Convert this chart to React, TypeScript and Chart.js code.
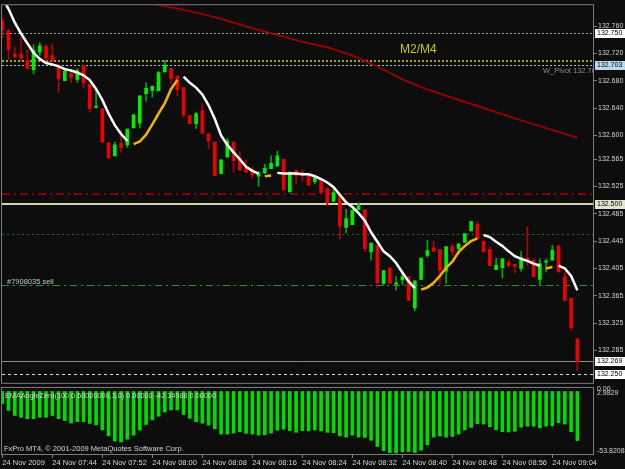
import React, { useEffect, useRef } from 'react';
import { Chart, registerables } from 'chart.js';

Chart.register(...registerables);

const FONT = '"Liberation Sans", Arial, sans-serif';

// ---------- DATA ----------
const opens = [
  132.768, 132.753, 132.719, 132.719, 132.709, 132.696, 132.722, 132.730, 132.717, 132.703,
  132.680, 132.691, 132.682, 132.702, 132.675, 132.641, 132.639, 132.589, 132.570, 132.588,
  132.586, 132.611, 132.618, 132.661, 132.666, 132.665, 132.693, 132.698, 132.687, 132.670,
  132.629, 132.617, 132.636, 132.602, 132.590, 132.544, 132.568, 132.590, 132.567, 132.552,
  132.550, 132.540, 132.545, 132.551, 132.555, 132.565, 132.517, 132.548, 132.546, 132.542,
  132.532, 132.535, 132.522, 132.503, 132.513, 132.465, 132.469, 132.491, 132.491, 132.429,
  132.439, 132.383, 132.406, 132.382, 132.388, 132.393, 132.347, 132.389, 132.424, 132.435,
  132.433, 132.401, 132.437, 132.434, 132.443, 132.460, 132.470, 132.445, 132.433, 132.403,
  132.406, 132.414, 132.411, 132.405, 132.420, 132.417, 132.389, 132.414, 132.417, 132.438,
  132.393, 132.361, 132.302,
];
const highs = [
  132.773, 132.755, 132.729, 132.742, 132.726, 132.733, 132.736, 132.733, 132.734, 132.704,
  132.695, 132.693, 132.698, 132.703, 132.675, 132.669, 132.639, 132.589, 132.590, 132.607,
  132.609, 132.631, 132.658, 132.677, 132.673, 132.694, 132.710, 132.698, 132.687, 132.670,
  132.629, 132.634, 132.645, 132.603, 132.590, 132.564, 132.596, 132.590, 132.576, 132.564,
  132.554, 132.547, 132.558, 132.570, 132.577, 132.565, 132.546, 132.549, 132.550, 132.542,
  132.539, 132.535, 132.523, 132.525, 132.513, 132.492, 132.491, 132.501, 132.491, 132.442,
  132.439, 132.402, 132.406, 132.393, 132.401, 132.393, 132.387, 132.420, 132.446, 132.445,
  132.433, 132.437, 132.441, 132.441, 132.456, 132.474, 132.474, 132.445, 132.437, 132.420,
  132.419, 132.418, 132.411, 132.430, 132.466, 132.419, 132.419, 132.419, 132.439, 132.438,
  132.400, 132.361, 132.302,
];
const lows = [
  132.743, 132.711, 132.714, 132.709, 132.697, 132.690, 132.717, 132.708, 132.709, 132.663,
  132.680, 132.677, 132.678, 132.669, 132.634, 132.640, 132.590, 132.567, 132.570, 132.575,
  132.582, 132.611, 132.611, 132.650, 132.656, 132.665, 132.693, 132.676, 132.658, 132.626,
  132.617, 132.610, 132.603, 132.580, 132.541, 132.544, 132.568, 132.546, 132.549, 132.546,
  132.537, 132.525, 132.544, 132.551, 132.555, 132.520, 132.517, 132.528, 132.533, 132.527,
  132.529, 132.516, 132.497, 132.503, 132.448, 132.457, 132.469, 132.491, 132.429, 132.417,
  132.377, 132.381, 132.383, 132.373, 132.381, 132.358, 132.343, 132.389, 132.421, 132.430,
  132.383, 132.383, 132.424, 132.426, 132.443, 132.460, 132.449, 132.429, 132.409, 132.403,
  132.391, 132.406, 132.398, 132.401, 132.409, 132.393, 132.380, 132.400, 132.417, 132.400,
  132.358, 132.314, 132.255,
];
const closes = [
  132.755, 132.726, 132.715, 132.713, 132.698, 132.725, 132.731, 132.713, 132.709, 132.683,
  132.694, 132.685, 132.695, 132.677, 132.639, 132.643, 132.590, 132.567, 132.586, 132.582,
  132.609, 132.630, 132.658, 132.669, 132.672, 132.692, 132.703, 132.683, 132.667, 132.630,
  132.617, 132.632, 132.603, 132.592, 132.541, 132.564, 132.592, 132.563, 132.549, 132.546,
  132.542, 132.545, 132.552, 132.559, 132.570, 132.520, 132.546, 132.541, 132.541, 132.527,
  132.539, 132.516, 132.501, 132.516, 132.467, 132.478, 132.490, 132.497, 132.434, 132.442,
  132.384, 132.402, 132.383, 132.384, 132.393, 132.358, 132.387, 132.420, 132.431, 132.430,
  132.402, 132.437, 132.430, 132.441, 132.456, 132.474, 132.449, 132.429, 132.409, 132.410,
  132.419, 132.409, 132.408, 132.421, 132.415, 132.393, 132.412, 132.416, 132.432, 132.400,
  132.358, 132.318, 132.269,
];

// EMA angle line: falling part (white) and rising part (yellow)
const maFalling = [
  132.802, 132.785, 132.765, 132.749, 132.735, 132.721, 132.712, 132.706, 132.704, 132.701,
  132.697, 132.695, 132.692, 132.688, 132.681, 132.668, 132.652, 132.632, 132.615, 132.602,
  132.592, null, null, null, null, null, null, null, null, 132.686,
  132.677, 132.670, 132.660, 132.644, 132.624, 132.600, 132.586, 132.575, 132.565, 132.554,
  132.548, 132.544, null, null, 132.545, 132.544, 132.544, 132.544, 132.543, 132.543,
  132.540, 132.536, 132.531, 132.524, 132.513, 132.502, 132.495, 132.486, 132.475, 132.458,
  132.444, 132.430, 132.423, 132.413, 132.399, 132.386, 132.376, null, null, null,
  null, null, null, null, null, null, null, 132.454, 132.451, 132.444,
  132.438, 132.430, 132.423, 132.419, 132.416, 132.412, 132.409, null, null, 132.409,
  132.405, 132.394, 132.373,
];
const maRising = [
  null, null, null, null, null, null, null, null, null, null,
  null, null, null, null, null, null, null, null, null, null,
  null, 132.587, 132.591, 132.601, 132.616, 132.632, 132.647, 132.668, 132.681, null,
  null, null, null, null, null, null, null, null, null, null,
  null, null, 132.540, 132.541, null, null, null, null, null, null,
  null, null, null, null, null, null, null, null, null, null,
  null, null, null, null, null, null, null, 132.374, 132.377, 132.384,
  132.394, 132.406, 132.415, 132.429, 132.438, 132.445, 132.449, null, null, null,
  null, null, null, null, null, null, null, 132.405, 132.407, null,
  null, null, null,
];

// slow moving average (dark red), read every few bars
const slowMaBars = [22, 25, 28, 32, 36, 40, 44, 48, 52, 56, 60, 64, 68, 72, 76, 80, 84, 88, 92];
const slowMaValues = [
  132.796, 132.791, 132.786, 132.778, 132.768, 132.757, 132.747, 132.737, 132.729, 132.717,
  132.701, 132.682, 132.667, 132.655, 132.643, 132.631, 132.619, 132.608, 132.596,
];

// EMAAngleZero histogram
const angleValues = [
  -10.3, -16.3, -20.7, -22.2, -23.4, -23.4, -22.2, -22.2, -20.7, -23.4,
  -25.1, -27.2, -26.0, -26.0, -27.5, -28.7, -33.1, -38.2, -42.6, -43.5,
  -41.1, -37.6, -33.1, -28.4, -24.5, -21.3, -17.7, -15.9, -15.9, -19.8,
  -23.1, -26.0, -27.3, -29.0, -32.2, -36.7, -36.7, -35.8, -34.6, -36.1,
  -36.7, -37.6, -37.3, -35.8, -33.4, -32.5, -33.7, -35.2, -33.7, -34.0,
  -33.1, -34.0, -35.2, -35.5, -38.2, -39.3, -37.6, -39.3, -39.6, -42.0,
  -47.3, -50.9, -52.6, -52.9, -52.0, -51.9, -52.6, -50.6, -45.8, -39.3,
  -38.4, -39.3, -38.7, -36.7, -33.1, -31.0, -27.8, -28.1, -30.4, -33.1,
  -34.6, -34.9, -34.3, -30.7, -29.9, -29.9, -31.3, -29.9, -29.6, -26.9,
  -28.1, -34.6, -42.3,
];

const priceTicks = [
  132.760, 132.720, 132.680, 132.640, 132.600, 132.565, 132.525,
  132.485, 132.445, 132.405, 132.365, 132.325, 132.285,
];
const timeTickBars = [0, 8, 16, 24, 32, 40, 48, 56, 64, 72, 80, 88];
const timeLabels = [
  '24 Nov 2009', '24 Nov 07:44', '24 Nov 07:52', '24 Nov 08:00', '24 Nov 08:08', '24 Nov 08:16',
  '24 Nov 08:24', '24 Nov 08:32', '24 Nov 08:40', '24 Nov 08:48', '24 Nov 08:56', '24 Nov 09:04',
];

// horizontal levels
const levelHigh = 132.750;
const levelM2M4 = 132.709;
const levelPivot = 132.703;
const levelRed = 132.514;
const levelRound = 132.500;
const levelGreen = 132.455;
const levelSell = 132.380;
const levelBid = 132.269;
const levelLow = 132.250;

const angleMin = -53.8208;
const angleMax = 2.9829;

// ---------- STYLES ----------
const BG = '#0d0d0d';
const FRAME = '#7c7c7c';
const TEXT = '#d4d4d4';
const BULL = '#00ee00';
const BEAR = '#ee0000';
const BULL_WICK = '#00a800';
const BEAR_WICK = '#b00000';

const levelStyles = [
  { value: levelHigh, color: '#a0a0a0', width: 1, dash: [2, 2] },
  { value: levelM2M4, color: '#a8a800', width: 2, dash: [2, 2] },
  { value: levelPivot, color: '#a8c4d4', width: 1, dash: [2, 2] },
  { value: levelRed, color: '#850000', width: 2, dash: [8, 4, 2, 4] },
  { value: levelRound, color: '#d6d6a8', width: 2, dash: [] },
  { value: levelGreen, color: '#0a7a0a', width: 1, dash: [2, 3] },
  { value: levelSell, color: '#1ea01e', width: 1, dash: [7, 4, 2, 4] },
  { value: levelBid, color: '#8e8e8e', width: 1, dash: [] },
  { value: levelLow, color: '#d8d8d8', width: 1, dash: [3, 3] },
];
const priceBoxes = [
  { value: levelHigh, fill: '#ffffff' },
  { value: levelPivot, fill: '#b4dcec' },
  { value: levelRound, fill: '#e4e4d0' },
  { value: levelBid, fill: '#ffffff' },
  { value: levelLow, fill: '#ffffff' },
];

const X_MIN = -0.05;
const X_MAX = 94.5;

const levelsPlugin = {
  id: 'levels',
  beforeDatasetsDraw(chart: any) {
    const { ctx, chartArea: a, scales } = chart;
    const y = scales.y;
    ctx.save();
    ctx.beginPath();
    ctx.rect(a.left, a.top, a.right - a.left, a.bottom - a.top);
    ctx.clip();
    levelStyles.forEach((st) => {
      const p = Math.round(y.getPixelForValue(st.value)) + (st.width % 2 ? 0.5 : 0);
      ctx.strokeStyle = st.color;
      ctx.lineWidth = st.width;
      ctx.setLineDash(st.dash);
      ctx.beginPath();
      ctx.moveTo(a.left, p);
      ctx.lineTo(a.right, p);
      ctx.stroke();
    });
    ctx.restore();
  },
};

const frameMain = {
  id: 'frameMain',
  afterDraw(chart: any) {
    const { ctx, chartArea: a, scales } = chart;
    const y = scales.y;
    ctx.save();
    ctx.strokeStyle = FRAME;
    ctx.lineWidth = 1;
    ctx.setLineDash([]);
    ctx.strokeRect(a.left - 0.5, a.top - 0.5, a.right - a.left + 1, a.bottom - a.top + 1);

    ctx.textBaseline = 'middle';
    ctx.textAlign = 'left';
    ctx.font = `12px ${FONT}`;
    ctx.fillStyle = '#c8c800';
    ctx.fillText('M2/M4', 400, y.getPixelForValue(levelM2M4) - 11);

    ctx.save();
    ctx.beginPath();
    ctx.rect(a.left, a.top, a.right - a.left, a.bottom - a.top);
    ctx.clip();
    ctx.font = `7.5px ${FONT}`;
    ctx.fillStyle = '#8c8c8c';
    ctx.fillText('W_Pivot 132.703', 543, y.getPixelForValue(levelPivot) + 5.5);
    ctx.fillStyle = '#c4c4c4';
    ctx.fillText('#7908035 sell', 7, y.getPixelForValue(levelSell) - 4);
    ctx.restore();

    ctx.font = `7px ${FONT}`;
    priceBoxes.forEach((b) => {
      const p = y.getPixelForValue(b.value);
      ctx.fillStyle = b.fill;
      ctx.fillRect(595, Math.round(p) - 4, 30, 9);
      ctx.fillStyle = '#000000';
      ctx.fillText(b.value.toFixed(3), 597, Math.round(p) + 0.5);
    });
    ctx.restore();
  },
};

const frameInd = {
  id: 'frameInd',
  afterDraw(chart: any) {
    const { ctx, chartArea: a, scales } = chart;
    const y = scales.y;
    ctx.save();
    ctx.strokeStyle = FRAME;
    ctx.lineWidth = 1;
    ctx.strokeRect(a.left - 0.5, a.top - 0.5, a.right - a.left + 1, a.bottom - a.top + 1);
    ctx.textBaseline = 'middle';
    ctx.textAlign = 'left';
    ctx.font = `7.3px ${FONT}`;
    ctx.fillStyle = TEXT;
    ctx.fillText('EMAAngleZero(100,0.60000000,3,0) 0.00000 -42.34988 0.00000', 5, a.top + 7.5);
    ctx.font = `7.5px ${FONT}`;
    ctx.fillText('FxPro MT4, \u00A9 2001-2009 MetaQuotes Software Corp.', 4, a.bottom - 5.5);
    ctx.font = `7px ${FONT}`;
    ctx.fillText('0.00', 597, y.getPixelForValue(0) - 2.5);
    ctx.fillText(angleMax.toFixed(4), 597, y.getPixelForValue(0) + 2);
    ctx.fillText(angleMin.toFixed(4), 597, y.getPixelForValue(angleMin) - 3);
    ctx.restore();
  },
};

export default function App() {
  const mainRef = useRef<HTMLCanvasElement | null>(null);
  const indRef = useRef<HTMLCanvasElement | null>(null);

  useEffect(() => {
    Chart.defaults.font.family = FONT;
    const bodyData = opens.map((o, i) => ({ x: i, y: [o, closes[i]] }));
    const wickData = lows.map((l, i) => ({ x: i, y: [l, highs[i]] }));
    const bodyColors = opens.map((o, i) => (closes[i] >= o ? BULL : BEAR));
    const wickColors = opens.map((o, i) => (closes[i] >= o ? BULL_WICK : BEAR_WICK));
    const falling = maFalling.map((v, i) => ({ x: i, y: v }));
    const rising = maRising.map((v, i) => ({ x: i, y: v }));
    const slow = slowMaBars.map((b, i) => ({ x: b, y: slowMaValues[i] }));

    const main = new Chart(mainRef.current as HTMLCanvasElement, {
      type: 'bar',
      data: {
        datasets: [
          { type: 'bar', data: wickData as any, backgroundColor: wickColors, barThickness: 1, grouped: false, order: 5 } as any,
          { type: 'bar', data: bodyData as any, backgroundColor: bodyColors, barThickness: 3, grouped: false, order: 4 } as any,
          { type: 'line', data: slow as any, borderColor: '#930000', borderWidth: 2, pointRadius: 0, order: 3 } as any,
          { type: 'line', data: falling as any, borderColor: '#ffffff', borderWidth: 2.5, pointRadius: 0, spanGaps: false, order: 2 } as any,
          { type: 'line', data: rising as any, borderColor: '#f0b400', borderWidth: 2.5, pointRadius: 0, spanGaps: false, order: 1 } as any,
        ],
      },
      options: {
        responsive: false,
        animation: false,
        events: [],
        layout: { padding: { left: 2, top: 2, right: 0, bottom: 2 } },
        plugins: { legend: { display: false }, tooltip: { enabled: false } },
        scales: {
          x: { type: 'linear', min: X_MIN, max: X_MAX, bounds: 'data', offset: false, grid: { offset: false }, display: false },
          y: {
            type: 'linear',
            position: 'right',
            min: 132.2374,
            max: 132.7907,
            bounds: 'data',
            afterFit: (s: any) => { s.width = 32; },
            afterBuildTicks: (s: any) => { s.ticks = priceTicks.map((v) => ({ value: v })); },
            ticks: {
              autoSkip: false,
              padding: 1,
              color: TEXT,
              font: { family: FONT, size: 7 },
              callback: (v: any) => Number(v).toFixed(3),
            },
            grid: { drawOnChartArea: false, drawTicks: true, tickLength: 4, color: FRAME },
            border: { display: true, color: FRAME },
          },
        },
      } as any,
      plugins: [levelsPlugin, frameMain],
    });

    const ind = new Chart(indRef.current as HTMLCanvasElement, {
      type: 'bar',
      data: {
        datasets: [
          {
            type: 'bar',
            data: angleValues.map((v, i) => ({ x: i, y: v })) as any,
            backgroundColor: '#00dc00',
            barThickness: 3,
            grouped: false,
          } as any,
        ],
      },
      options: {
        responsive: false,
        animation: false,
        events: [],
        layout: { padding: { left: 2, top: 2, right: 0, bottom: 0 } },
        plugins: { legend: { display: false }, tooltip: { enabled: false } },
        scales: {
          x: {
            type: 'linear',
            min: X_MIN,
            max: X_MAX,
            bounds: 'data',
            offset: false,
            position: 'bottom',
            afterFit: (s: any) => { s.height = 15; },
            afterBuildTicks: (s: any) => { s.ticks = timeTickBars.map((v) => ({ value: v })); },
            ticks: {
              autoSkip: false,
              maxRotation: 0,
              minRotation: 0,
              align: 'start',
              padding: 0,
              color: TEXT,
              font: { family: FONT, size: 7.5 },
              callback: (_v: any, idx: number) => timeLabels[idx],
            },
            grid: { offset: false, drawOnChartArea: false, drawTicks: true, tickLength: 4, color: FRAME },
            border: { display: true, color: FRAME },
          },
          y: {
            type: 'linear',
            position: 'right',
            min: angleMin,
            max: angleMax,
            bounds: 'data',
            afterFit: (s: any) => { s.width = 32; },
            ticks: { display: false },
            grid: { display: false },
            border: { display: true, color: FRAME },
          },
        },
      } as any,
      plugins: [frameInd],
    });

    return () => {
      main.destroy();
      ind.destroy();
    };
  }, []);

  return (
    <div style={{ position: 'fixed', left: 0, top: 0, width: 625, height: 469, background: BG, overflow: 'hidden' }}>
      <canvas ref={mainRef} width={625} height={388} style={{ position: 'absolute', left: 0, top: 0, display: 'block' }} />
      <canvas ref={indRef} width={625} height={83} style={{ position: 'absolute', left: 0, top: 386, display: 'block' }} />
    </div>
  );
}
